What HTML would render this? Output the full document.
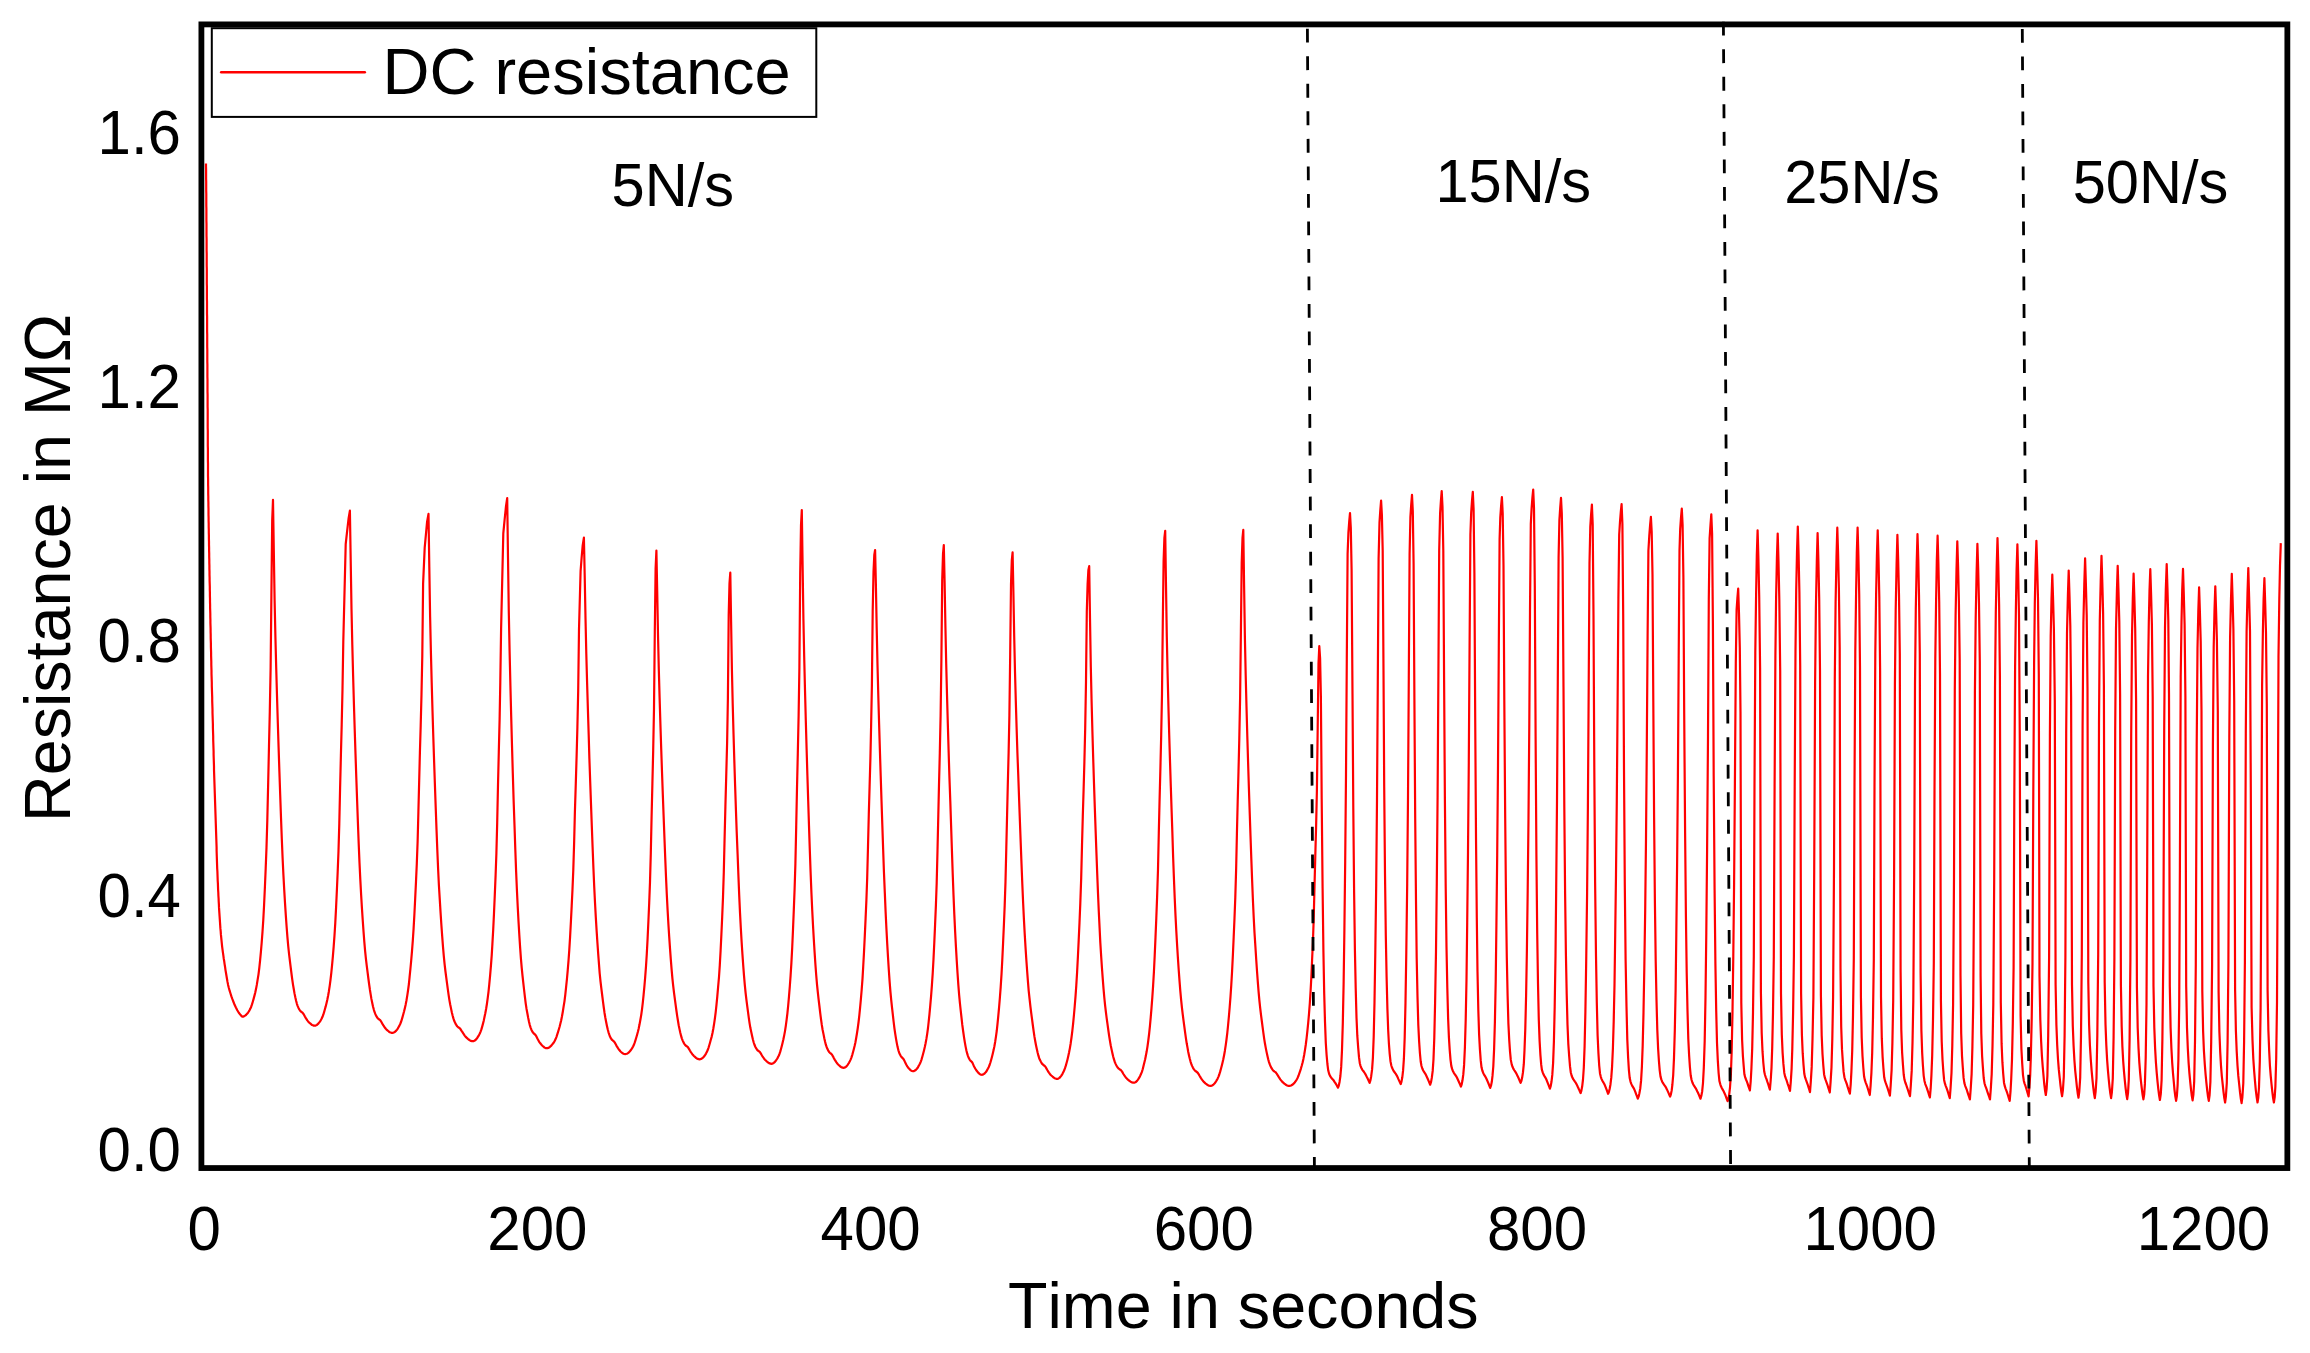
<!DOCTYPE html>
<html lang="en">
<head>
<meta charset="utf-8">
<title>DC resistance versus time</title>
<style>
html,body{margin:0;padding:0;background:#fff;}
body{width:2310px;height:1353px;overflow:hidden;}
svg{display:block;}
text{white-space:pre;font-kerning:none;font-variant-ligatures:none;}
</style>
</head>
<body>
<svg width="2310" height="1353" viewBox="0 0 2310 1353" font-family="'Liberation Sans', Arial, Helvetica, sans-serif" fill="#000">
<rect x="0" y="0" width="2310" height="1353" fill="#fff"/>
<path d="M206.0 163.6L206.0 166.6L206.1 169.6L206.1 172.6L206.1 175.6L206.1 178.6L206.2 181.6L206.2 184.6L206.2 187.6L206.2 190.6L206.3 193.6L206.3 196.6L206.3 199.6L206.3 202.6L206.3 205.6L206.4 208.6L206.4 211.6L206.4 214.6L206.4 217.6L206.4 220.6L206.5 223.6L206.5 226.6L206.5 229.6L206.5 232.6L206.5 235.6L206.6 238.6L206.6 241.6L206.6 244.6L206.6 247.6L206.6 250.6L206.7 253.6L206.7 256.6L206.7 259.6L206.7 262.6L206.7 265.6L206.8 268.6L206.8 271.6L206.8 274.6L206.8 277.6L206.8 280.6L206.8 283.6L206.9 286.6L206.9 289.6L206.9 292.6L206.9 295.6L206.9 298.6L207.0 301.6L207.0 304.6L207.0 307.6L207.0 310.6L207.0 313.6L207.1 316.6L207.1 319.6L207.1 322.6L207.1 325.6L207.1 328.6L207.1 331.6L207.2 334.6L207.2 337.6L207.2 340.6L207.2 343.6L207.2 346.6L207.3 349.6L207.3 352.6L207.3 355.6L207.3 358.6L207.3 361.6L207.4 364.6L207.4 367.6L207.4 370.6L207.4 373.6L207.4 376.6L207.5 379.6L207.5 382.6L207.5 385.6L207.5 388.6L207.5 391.6L207.6 394.6L207.6 397.6L207.6 400.6L207.6 403.6L207.6 406.6L207.7 409.6L207.7 412.6L207.7 415.6L207.7 418.6L207.7 421.6L207.7 424.6L207.7 427.6L207.8 430.6L207.8 433.6L207.8 436.6L207.8 439.6L207.8 442.6L207.8 445.6L207.9 448.6L207.9 451.6L207.9 454.6L207.9 457.6L207.9 460.6L208.0 463.6L208.0 466.6L208.0 469.6L208.0 472.6L208.0 475.6L208.1 478.6L208.1 481.6L208.1 484.6L208.2 487.6L208.2 490.6L208.2 493.6L208.3 496.6L208.3 499.6L208.4 502.6L208.4 505.6L208.5 508.6L208.5 511.6L208.5 514.6L208.6 517.6L208.6 520.6L208.7 523.6L208.7 526.6L208.8 529.6L208.8 532.6L208.9 535.6L208.9 538.6L209.0 541.6L209.0 544.6L209.1 547.6L209.1 550.6L209.2 553.6L209.2 556.6L209.3 559.6L209.3 562.6L209.4 565.6L209.4 568.6L209.5 571.6L209.5 574.6L209.6 577.6L209.6 580.6L209.7 583.6L209.8 586.6L209.8 589.6L209.9 592.6L209.9 595.6L210.0 598.6L210.0 601.6L210.1 604.6L210.1 607.6L210.2 610.6L210.3 613.6L210.3 616.6L210.4 619.6L210.4 622.6L210.5 625.6L210.6 628.6L210.6 631.6L210.7 634.6L210.7 637.6L210.8 640.6L210.9 643.6L210.9 646.6L211.0 649.6L211.1 652.6L211.1 655.6L211.2 658.6L211.3 661.6L211.3 664.6L211.4 667.6L211.5 670.6L211.5 673.6L211.6 676.6L211.7 679.6L211.8 682.6L211.8 685.6L211.9 688.6L212.0 691.6L212.1 694.6L212.2 697.6L212.2 700.6L212.3 703.6L212.4 706.6L212.5 709.5L212.5 712.5L212.6 715.5L212.7 718.5L212.8 721.5L212.9 724.5L212.9 727.5L213.0 730.5L213.1 733.5L213.2 736.5L213.2 739.5L213.3 742.5L213.4 745.5L213.5 748.5L213.6 751.5L213.6 754.5L213.7 757.5L213.8 760.5L213.9 763.5L214.0 766.5L214.0 769.5L214.1 772.5L214.2 775.5L214.3 778.5L214.4 781.5L214.5 784.5L214.6 787.5L214.7 790.5L214.8 793.5L214.9 796.5L215.0 799.5L215.1 802.5L215.2 805.5L215.3 808.5L215.4 811.5L215.5 814.5L215.6 817.5L215.7 820.5L215.8 823.5L215.9 826.5L216.0 829.5L216.1 832.5L216.2 835.5L216.3 838.5L216.4 841.5L216.5 844.5L216.6 847.5L216.6 850.5L216.7 853.5L216.8 856.5L216.9 859.5L217.0 862.5L217.1 865.5L217.2 868.5L217.4 871.5L217.5 874.5L217.6 877.5L217.7 880.5L217.9 883.5L218.0 886.5L218.1 889.5L218.3 892.5L218.4 895.5L218.6 898.5L218.7 901.4L218.9 904.4L219.0 907.4L219.2 910.4L219.4 913.4L219.6 916.4L219.8 919.4L220.0 922.4L220.2 925.4L220.4 928.4L220.7 931.4L220.9 934.4L221.2 937.4L221.5 940.3L221.8 943.3L222.1 946.3L222.5 949.3L222.9 952.3L223.3 955.2L223.7 958.2L224.2 961.2L224.6 964.1L225.1 967.1L225.5 970.1L226.0 973.0L226.5 976.0L227.0 979.0L227.5 981.9L228.1 984.9L228.8 987.8L229.6 990.7L230.5 993.5L231.4 996.4L232.4 999.2L233.5 1002.0L234.6 1004.8L235.9 1007.5L237.3 1010.2L238.8 1012.8L240.7 1015.1L242.3 1016.7L243.1 1016.6L243.9 1016.4L244.7 1015.9L245.5 1015.4L246.3 1014.6L247.1 1013.7L248.0 1012.7L248.8 1011.5L249.6 1010.1L250.4 1008.6L251.2 1006.7L252.0 1004.4L252.8 1001.7L253.6 998.9L254.4 995.9L255.2 992.7L256.0 989.1L256.8 984.9L257.6 979.9L258.5 974.3L259.3 967.9L260.1 960.4L260.9 951.9L261.7 942.5L262.5 931.9L263.3 919.7L264.1 904.8L264.9 887.3L265.7 868.3L266.5 847.6L267.3 820.5L268.2 782.1L269.0 746.0L269.8 711.6L270.6 669.1L271.4 594.9L272.2 520.6L273.0 499.9L273.8 550.5L274.6 600.0L275.4 636.4L276.2 667.4L277.0 695.9L277.8 722.5L278.6 747.6L279.4 771.6L280.2 795.0L281.0 817.6L281.8 838.8L282.6 858.0L283.4 874.6L284.2 889.4L285.0 902.9L285.8 915.1L286.6 926.5L287.4 936.9L288.2 945.9L289.0 953.5L289.8 960.2L290.6 966.6L291.4 973.0L292.2 979.1L293.0 984.6L293.8 989.2L294.5 993.4L295.3 997.3L296.1 1000.8L296.9 1003.8L297.7 1006.1L298.5 1007.9L299.3 1009.5L300.1 1010.7L300.9 1011.5L301.7 1012.1L302.5 1012.7L303.3 1013.7L304.1 1015.0L304.9 1016.5L305.7 1017.9L306.5 1019.1L307.3 1020.4L308.1 1021.4L308.9 1022.3L309.7 1023.0L310.5 1023.7L311.3 1024.4L312.1 1025.0L312.9 1025.3L313.7 1025.6L314.5 1025.7L315.3 1025.6L316.1 1025.3L316.9 1024.9L317.7 1024.2L318.5 1023.4L319.3 1022.4L320.1 1021.3L320.9 1020.0L321.7 1018.5L322.5 1016.8L323.3 1014.7L324.1 1012.1L324.9 1009.3L325.7 1006.4L326.5 1003.2L327.3 999.7L328.1 995.8L328.9 991.2L329.7 985.8L330.5 979.9L331.3 972.9L332.1 964.9L332.9 956.1L333.7 946.4L334.5 935.4L335.3 922.6L336.1 907.1L336.9 889.7L337.7 871.5L338.5 851.0L339.3 823.6L340.1 787.7L340.9 755.5L341.7 724.9L342.5 689.3L343.3 641.5L345.7 544.2L347.1 531.3L348.6 518.4L349.9 510.7L350.7 560.3L351.5 608.9L352.3 644.8L353.1 675.2L353.9 703.3L354.7 729.3L355.5 753.9L356.3 777.5L357.1 800.3L357.9 822.6L358.7 843.6L359.5 862.7L360.3 879.4L361.1 894.2L361.9 907.6L362.7 919.8L363.5 931.1L364.3 941.6L365.1 950.8L365.9 958.6L366.7 965.4L367.5 971.7L368.3 978.0L369.1 984.0L369.9 989.7L370.7 994.6L371.4 998.9L372.2 1002.8L373.0 1006.4L373.8 1009.6L374.6 1012.2L375.4 1014.2L376.2 1015.9L377.0 1017.3L377.8 1018.3L378.6 1019.0L379.4 1019.6L380.2 1020.2L381.0 1021.3L381.8 1022.7L382.6 1024.1L383.4 1025.4L384.2 1026.6L385.0 1027.8L385.8 1028.8L386.6 1029.6L387.4 1030.3L388.2 1031.0L389.0 1031.7L389.8 1032.2L390.6 1032.5L391.4 1032.8L392.2 1032.9L393.0 1032.8L393.8 1032.5L394.6 1032.1L395.4 1031.4L396.2 1030.6L397.0 1029.7L397.8 1028.6L398.5 1027.3L399.3 1025.9L400.1 1024.2L400.9 1022.3L401.7 1019.8L402.5 1017.1L403.3 1014.3L404.1 1011.3L404.9 1008.0L405.7 1004.4L406.5 1000.2L407.3 995.4L408.1 990.0L408.9 984.0L409.6 976.9L410.4 969.0L411.2 960.5L412.0 951.2L412.8 940.7L413.6 928.6L414.4 914.2L415.2 898.2L416.0 881.6L416.8 863.7L417.6 842.0L418.4 811.8L419.2 780.2L419.9 752.7L420.7 725.5L421.5 694.2L422.3 655.4L423.1 583.9L424.7 547.6L425.9 534.7L427.1 521.7L428.5 513.9L429.3 566.7L430.1 616.1L430.9 652.1L431.7 682.6L432.5 710.7L433.3 736.7L434.1 761.1L434.9 784.5L435.7 807.1L436.5 829.1L437.3 849.8L438.1 868.7L438.9 885.2L439.8 899.9L440.6 913.1L441.4 925.2L442.2 936.4L443.0 946.8L443.8 956.1L444.6 964.1L445.4 971.0L446.2 977.2L447.0 983.2L447.8 989.2L448.6 994.9L449.4 1000.1L450.2 1004.5L451.0 1008.4L451.8 1012.2L452.6 1015.5L453.4 1018.4L454.2 1020.8L455.0 1022.6L455.8 1024.2L456.6 1025.5L457.4 1026.5L458.2 1027.2L459.0 1027.7L459.8 1028.3L460.6 1029.3L461.4 1030.6L462.3 1031.9L463.1 1033.2L463.9 1034.4L464.7 1035.6L465.5 1036.6L466.3 1037.4L467.1 1038.2L467.9 1038.9L468.7 1039.5L469.5 1040.1L470.3 1040.6L471.1 1040.9L471.9 1041.1L472.7 1041.2L473.5 1041.1L474.3 1040.8L475.1 1040.3L475.9 1039.6L476.6 1038.7L477.4 1037.7L478.2 1036.4L479.0 1035.1L479.8 1033.5L480.6 1031.6L481.4 1029.4L482.2 1026.6L483.0 1023.6L483.8 1020.4L484.5 1017.0L485.3 1013.3L486.1 1009.0L486.9 1004.0L487.7 998.2L488.5 991.8L489.3 984.2L490.1 975.6L490.9 966.1L491.7 955.7L492.4 943.9L493.2 929.9L494.0 913.2L494.8 894.7L495.6 875.4L496.4 853.2L497.2 822.6L498.0 785.0L498.8 752.0L499.6 719.9L500.3 681.9L501.1 628.8L503.3 533.4L504.6 519.8L506.0 506.2L507.2 498.1L508.0 557.5L508.8 611.9L509.6 651.2L510.4 685.3L511.2 716.6L512.0 745.6L512.8 773.1L513.6 799.6L514.5 825.2L515.3 849.3L516.1 871.1L516.9 889.8L517.7 906.3L518.5 921.2L519.3 934.7L520.1 947.1L520.9 958.3L521.7 967.7L522.5 975.7L523.3 982.9L524.1 990.0L524.9 996.9L525.7 1003.3L526.5 1008.7L527.4 1013.5L528.2 1017.9L529.0 1021.8L529.8 1025.1L530.6 1027.6L531.4 1029.7L532.2 1031.4L533.0 1032.6L533.8 1033.5L534.6 1034.1L535.4 1034.9L536.2 1036.1L537.0 1037.7L537.8 1039.3L538.6 1040.7L539.4 1042.1L540.3 1043.3L541.1 1044.3L541.9 1045.2L542.7 1046.0L543.5 1046.7L544.3 1047.4L545.1 1047.8L545.9 1048.1L546.7 1048.2L547.5 1048.1L548.3 1047.9L549.1 1047.5L549.9 1046.9L550.7 1046.2L551.5 1045.4L552.3 1044.4L553.2 1043.3L554.0 1042.1L554.8 1040.7L555.6 1039.1L556.4 1037.1L557.2 1034.7L558.0 1032.2L558.8 1029.5L559.6 1026.7L560.4 1023.6L561.2 1020.2L562.0 1016.3L562.8 1011.8L563.6 1006.7L564.5 1001.1L565.3 994.6L566.1 987.2L566.9 979.3L567.7 970.6L568.5 960.9L569.3 949.9L570.1 936.8L570.9 921.8L571.7 905.9L572.5 889.2L573.3 869.9L574.1 843.8L574.9 811.9L575.8 783.2L576.6 756.5L577.4 727.0L578.2 690.6L579.0 629.4L580.6 570.8L581.6 558.0L582.7 545.3L583.9 537.6L584.7 575.5L585.5 618.1L586.3 653.7L587.1 682.9L587.9 709.6L588.7 734.9L589.4 758.9L590.2 781.8L591.0 804.1L591.8 825.9L592.6 847.3L593.4 867.6L594.2 886.2L595.0 902.5L595.8 917.1L596.6 930.4L597.4 942.5L598.2 953.8L599.0 964.3L599.7 973.5L600.5 981.3L601.3 988.1L602.1 994.5L602.9 1000.8L603.7 1007.0L604.5 1012.7L605.3 1017.5L606.1 1021.7L606.9 1025.7L607.7 1029.3L608.5 1032.3L609.3 1034.7L610.0 1036.6L610.8 1038.2L611.6 1039.4L612.4 1040.2L613.2 1040.8L614.0 1041.5L614.8 1042.6L615.6 1044.0L616.4 1045.6L617.2 1046.9L618.0 1048.2L618.8 1049.4L619.6 1050.3L620.3 1051.2L621.1 1052.0L621.9 1052.7L622.7 1053.3L623.5 1053.7L624.3 1054.0L625.1 1054.1L625.9 1054.0L626.7 1053.8L627.5 1053.4L628.3 1052.8L629.1 1052.1L629.9 1051.3L630.7 1050.3L631.5 1049.2L632.3 1047.9L633.1 1046.5L633.9 1044.8L634.7 1042.7L635.5 1040.2L636.3 1037.5L637.1 1034.7L637.9 1031.7L638.7 1028.4L639.5 1024.6L640.3 1020.2L641.2 1015.1L642.0 1009.3L642.8 1002.7L643.6 994.9L644.4 986.4L645.2 977.0L646.0 966.4L646.8 953.8L647.6 938.6L648.4 921.3L649.2 903.0L650.0 882.1L650.8 853.2L651.6 816.2L652.4 783.4L653.2 750.3L654.0 708.4L654.8 631.8L655.6 568.9L656.4 550.6L657.2 591.1L658.0 634.6L658.8 669.1L659.6 697.6L660.4 723.9L661.2 748.5L662.0 771.8L662.8 794.1L663.6 815.6L664.4 836.7L665.2 857.3L666.0 876.7L666.8 894.5L667.6 910.1L668.4 924.1L669.2 936.8L670.0 948.4L670.8 959.3L671.6 969.3L672.4 978.3L673.2 985.9L674.0 992.6L674.8 998.7L675.6 1004.6L676.4 1010.5L677.2 1016.1L678.0 1021.0L678.7 1025.2L679.5 1029.1L680.3 1032.7L681.1 1035.9L681.9 1038.6L682.7 1040.6L683.5 1042.4L684.3 1043.8L685.1 1044.9L685.9 1045.7L686.7 1046.2L687.5 1046.8L688.3 1047.8L689.1 1049.1L689.9 1050.5L690.7 1051.8L691.5 1053.0L692.3 1054.2L693.1 1055.1L693.9 1056.0L694.7 1056.7L695.5 1057.4L696.3 1058.1L697.1 1058.6L697.9 1058.9L698.7 1059.2L699.5 1059.3L700.3 1059.2L701.1 1058.9L701.9 1058.5L702.7 1057.8L703.6 1057.0L704.4 1056.0L705.2 1054.9L706.0 1053.6L706.8 1052.1L707.6 1050.3L708.4 1048.1L709.2 1045.5L710.0 1042.7L710.8 1039.8L711.7 1036.6L712.5 1033.0L713.3 1028.8L714.1 1023.9L714.9 1018.4L715.7 1012.1L716.5 1004.6L717.3 996.3L718.1 987.2L719.0 977.0L719.8 965.1L720.6 950.7L721.4 934.2L722.2 916.7L723.0 897.4L723.8 872.2L724.6 838.0L725.4 806.4L726.2 777.0L727.1 743.2L727.9 698.1L728.7 615.2L729.5 583.4L730.3 572.7L731.1 622.1L731.9 669.1L732.7 703.5L733.5 733.0L734.3 760.1L735.1 785.3L735.9 809.1L736.7 831.9L737.6 854.1L738.4 875.4L739.2 895.1L740.0 912.6L740.8 927.8L741.6 941.5L742.4 953.8L743.2 965.1L744.0 975.6L744.8 984.9L745.6 992.8L746.4 999.6L747.2 1005.8L748.0 1011.8L748.8 1017.8L749.6 1023.3L750.4 1028.1L751.3 1032.2L752.1 1036.0L752.9 1039.5L753.7 1042.5L754.5 1044.8L755.3 1046.7L756.1 1048.2L756.9 1049.5L757.7 1050.4L758.5 1051.0L759.3 1051.5L760.1 1052.3L760.9 1053.6L761.7 1055.0L762.5 1056.3L763.3 1057.5L764.1 1058.7L765.0 1059.7L765.8 1060.5L766.6 1061.3L767.4 1061.9L768.2 1062.6L769.0 1063.1L769.8 1063.4L770.6 1063.7L771.4 1063.8L772.2 1063.7L773.0 1063.4L773.8 1062.9L774.6 1062.2L775.4 1061.3L776.2 1060.2L777.0 1059.0L777.8 1057.6L778.6 1056.0L779.4 1054.2L780.2 1051.9L781.0 1049.0L781.8 1046.0L782.6 1042.8L783.4 1039.3L784.2 1035.4L785.0 1031.1L785.8 1025.9L786.6 1019.9L787.4 1013.3L788.2 1005.4L789.0 996.4L789.8 986.5L790.6 975.5L791.4 962.9L792.2 947.8L793.0 929.8L793.8 910.0L794.6 889.1L795.4 863.8L796.2 827.1L797.0 788.1L797.8 753.7L798.6 716.2L799.4 667.6L800.2 574.2L801.0 525.3L801.8 510.0L802.6 565.3L803.4 618.2L804.2 657.0L805.0 690.1L805.8 720.5L806.6 748.8L807.4 775.4L808.2 801.0L809.0 825.9L809.8 849.9L810.6 872.2L811.4 892.3L812.2 909.7L813.0 925.2L813.8 939.3L814.6 952.2L815.4 964.2L816.2 975.0L817.0 984.3L817.8 992.2L818.6 999.3L819.4 1006.0L820.2 1012.8L821.0 1019.2L821.8 1024.9L822.6 1029.7L823.5 1034.1L824.3 1038.2L825.1 1041.8L825.9 1044.9L826.7 1047.2L827.5 1049.1L828.3 1050.7L829.1 1052.0L829.9 1052.8L830.7 1053.4L831.5 1054.1L832.3 1055.2L833.1 1056.6L833.9 1058.2L834.7 1059.6L835.5 1060.9L836.3 1062.2L837.1 1063.3L837.9 1064.2L838.7 1065.0L839.5 1065.7L840.3 1066.5L841.1 1067.0L841.9 1067.4L842.7 1067.7L843.5 1067.8L844.3 1067.7L845.1 1067.4L845.9 1066.8L846.7 1066.1L847.5 1065.1L848.2 1064.0L849.0 1062.8L849.8 1061.3L850.6 1059.6L851.4 1057.6L852.2 1055.1L853.0 1052.2L853.8 1049.2L854.6 1046.0L855.4 1042.4L856.1 1038.5L856.9 1033.8L857.7 1028.5L858.5 1022.5L859.3 1015.7L860.1 1007.7L860.9 999.0L861.7 989.5L862.5 978.9L863.2 966.8L864.0 952.2L864.8 935.7L865.6 918.4L866.4 900.1L867.2 877.8L868.0 846.7L868.8 814.3L869.6 786.4L870.4 758.5L871.1 726.1L871.9 685.5L872.7 611.4L873.5 572.4L874.3 554.9L875.1 550.0L875.9 585.5L876.7 627.9L877.5 665.1L878.3 695.6L879.1 723.7L879.9 750.4L880.7 775.9L881.5 800.5L882.3 824.4L883.1 848.0L883.9 871.0L884.8 892.4L885.6 911.6L886.4 928.3L887.2 943.4L888.0 957.1L888.8 969.7L889.6 981.3L890.4 991.4L891.2 999.9L892.0 1007.3L892.8 1014.4L893.6 1021.5L894.4 1028.1L895.2 1033.7L896.0 1038.6L896.8 1043.1L897.6 1047.1L898.4 1050.3L899.2 1052.7L900.0 1054.6L900.8 1056.1L901.6 1057.2L902.4 1057.9L903.2 1058.7L904.1 1060.1L904.9 1061.8L905.7 1063.4L906.5 1065.0L907.3 1066.4L908.1 1067.5L908.9 1068.5L909.7 1069.3L910.5 1070.1L911.3 1070.7L912.1 1071.0L912.9 1071.2L913.7 1071.1L914.5 1070.8L915.3 1070.3L916.1 1069.6L916.9 1068.7L917.7 1067.7L918.4 1066.4L919.2 1065.0L920.0 1063.5L920.8 1061.6L921.6 1059.3L922.4 1056.5L923.2 1053.5L924.0 1050.4L924.8 1047.0L925.6 1043.2L926.4 1038.9L927.2 1033.8L928.0 1028.0L928.7 1021.5L929.5 1013.9L930.3 1005.2L931.1 995.9L931.9 985.4L932.7 973.5L933.5 959.2L934.3 942.5L935.1 924.4L935.9 905.4L936.7 882.8L937.5 850.8L938.3 815.4L939.0 784.6L939.8 753.4L940.6 715.8L941.4 659.4L942.2 580.7L943.0 554.2L943.8 545.0L944.6 581.9L945.4 625.6L946.2 663.4L947.0 694.5L947.8 723.2L948.6 750.4L949.4 776.4L950.3 801.4L951.1 825.8L951.9 849.9L952.7 873.2L953.5 894.9L954.3 914.1L955.1 931.0L955.9 946.1L956.7 960.0L957.5 972.7L958.3 984.4L959.1 994.5L959.9 1003.0L960.7 1010.5L961.5 1017.7L962.3 1024.9L963.2 1031.5L964.0 1037.1L964.8 1042.1L965.6 1046.6L966.4 1050.5L967.2 1053.7L968.0 1056.1L968.8 1058.1L969.6 1059.6L970.4 1060.6L971.2 1061.3L972.0 1062.1L972.8 1063.6L973.6 1065.4L974.4 1067.0L975.2 1068.5L976.1 1069.9L976.9 1071.1L977.7 1072.0L978.5 1072.9L979.3 1073.7L980.1 1074.3L980.9 1074.6L981.7 1074.8L982.5 1074.7L983.3 1074.4L984.1 1073.9L984.9 1073.1L985.7 1072.2L986.5 1071.2L987.2 1069.9L988.0 1068.5L988.8 1066.9L989.6 1065.0L990.4 1062.5L991.2 1059.7L992.0 1056.7L992.8 1053.5L993.6 1050.1L994.4 1046.2L995.2 1041.7L996.0 1036.4L996.8 1030.5L997.5 1023.8L998.3 1015.9L999.1 1007.1L999.9 997.5L1000.7 986.8L1001.5 974.5L1002.3 959.7L1003.1 942.7L1003.9 924.7L1004.7 905.4L1005.5 881.6L1006.3 848.1L1007.1 814.2L1007.8 784.6L1008.6 753.4L1009.4 715.3L1010.2 654.1L1011.0 584.6L1011.8 560.4L1012.6 552.4L1013.4 592.5L1014.2 636.2L1015.0 671.8L1015.8 700.9L1016.6 727.6L1017.4 752.7L1018.3 776.5L1019.1 799.2L1019.9 821.1L1020.7 842.6L1021.5 863.6L1022.3 883.7L1023.1 902.3L1023.9 918.9L1024.7 933.6L1025.5 947.0L1026.3 959.2L1027.1 970.5L1027.9 981.1L1028.7 990.8L1029.6 999.2L1030.4 1006.4L1031.2 1012.8L1032.0 1018.9L1032.8 1025.0L1033.6 1030.9L1034.4 1036.4L1035.2 1041.0L1036.0 1045.2L1036.8 1049.0L1037.6 1052.6L1038.4 1055.7L1039.2 1058.2L1040.0 1060.1L1040.9 1061.8L1041.7 1063.2L1042.5 1064.2L1043.3 1064.9L1044.1 1065.5L1044.9 1066.1L1045.7 1067.2L1046.5 1068.6L1047.3 1070.0L1048.1 1071.3L1048.9 1072.6L1049.7 1073.7L1050.5 1074.7L1051.3 1075.5L1052.2 1076.3L1053.0 1077.0L1053.8 1077.6L1054.6 1078.2L1055.4 1078.5L1056.2 1078.8L1057.0 1078.9L1057.8 1078.8L1058.6 1078.4L1059.4 1077.9L1060.2 1077.1L1061.0 1076.1L1061.8 1075.0L1062.6 1073.6L1063.4 1072.1L1064.2 1070.3L1065.0 1068.2L1065.9 1065.4L1066.7 1062.5L1067.5 1059.4L1068.3 1056.0L1069.1 1052.3L1069.9 1048.1L1070.7 1043.2L1071.5 1037.5L1072.3 1031.2L1073.1 1023.8L1073.9 1015.5L1074.7 1006.5L1075.5 996.6L1076.3 985.4L1077.1 972.2L1077.9 956.8L1078.7 940.1L1079.5 922.8L1080.3 903.4L1081.2 877.9L1082.0 845.6L1082.8 816.2L1083.6 789.7L1084.4 761.7L1085.2 728.4L1086.0 681.5L1086.8 611.7L1087.6 584.3L1088.4 569.9L1089.2 566.2L1090.0 618.2L1090.8 666.5L1091.6 701.5L1092.4 731.2L1093.2 758.4L1094.0 783.6L1094.8 807.4L1095.6 830.0L1096.4 852.0L1097.2 873.3L1098.0 893.4L1098.8 911.8L1099.6 928.0L1100.3 942.4L1101.1 955.3L1101.9 967.2L1102.7 978.1L1103.5 988.3L1104.3 997.5L1105.1 1005.4L1105.9 1012.2L1106.7 1018.4L1107.5 1024.2L1108.3 1030.0L1109.1 1035.6L1109.9 1040.7L1110.7 1045.2L1111.5 1049.1L1112.3 1052.8L1113.1 1056.2L1113.9 1059.2L1114.7 1061.7L1115.5 1063.6L1116.3 1065.3L1117.1 1066.7L1117.9 1067.8L1118.7 1068.6L1119.5 1069.2L1120.3 1069.7L1121.1 1070.4L1121.9 1071.4L1122.7 1072.7L1123.4 1074.0L1124.2 1075.2L1125.0 1076.3L1125.8 1077.4L1126.6 1078.3L1127.4 1079.1L1128.2 1079.8L1129.0 1080.5L1129.8 1081.1L1130.6 1081.7L1131.4 1082.1L1132.2 1082.4L1133.0 1082.6L1133.8 1082.7L1134.6 1082.6L1135.4 1082.2L1136.2 1081.7L1137.0 1080.9L1137.8 1079.9L1138.6 1078.7L1139.4 1077.4L1140.2 1075.8L1141.0 1074.0L1141.9 1071.9L1142.7 1069.2L1143.5 1066.0L1144.3 1062.8L1145.1 1059.4L1145.9 1055.6L1146.7 1051.3L1147.5 1046.3L1148.3 1040.5L1149.1 1034.0L1149.9 1026.4L1150.7 1017.7L1151.5 1008.2L1152.3 997.7L1153.1 985.9L1153.9 972.2L1154.7 955.8L1155.5 937.4L1156.3 918.3L1157.1 897.1L1158.0 869.5L1158.8 832.9L1159.6 799.1L1160.4 768.5L1161.2 735.1L1162.0 693.8L1162.8 622.7L1163.6 560.9L1164.4 537.9L1165.2 530.8L1166.0 585.4L1166.8 636.6L1167.6 674.0L1168.4 705.4L1169.2 734.3L1170.0 761.1L1170.8 786.3L1171.6 810.4L1172.4 833.6L1173.1 856.2L1173.9 877.8L1174.7 897.7L1175.5 915.4L1176.3 931.0L1177.1 945.0L1177.9 957.9L1178.7 969.7L1179.5 980.7L1180.3 990.8L1181.1 999.7L1181.9 1007.3L1182.7 1014.1L1183.5 1020.3L1184.3 1026.4L1185.1 1032.4L1185.9 1038.2L1186.7 1043.3L1187.5 1047.6L1188.2 1051.7L1189.0 1055.4L1189.8 1058.8L1190.6 1061.8L1191.4 1064.2L1192.2 1066.1L1193.0 1067.8L1193.8 1069.1L1194.6 1070.2L1195.4 1071.0L1196.2 1071.5L1197.0 1072.1L1197.8 1072.9L1198.6 1074.1L1199.4 1075.5L1200.2 1076.8L1201.0 1078.1L1201.8 1079.3L1202.6 1080.4L1203.3 1081.3L1204.1 1082.2L1204.9 1082.9L1205.7 1083.6L1206.5 1084.2L1207.3 1084.8L1208.1 1085.3L1208.9 1085.6L1209.7 1085.8L1210.5 1085.9L1211.3 1085.8L1212.1 1085.5L1212.9 1085.0L1213.7 1084.3L1214.5 1083.5L1215.3 1082.5L1216.1 1081.3L1216.9 1079.9L1217.7 1078.4L1218.5 1076.6L1219.3 1074.5L1220.1 1071.9L1220.9 1069.0L1221.7 1065.9L1222.5 1062.7L1223.3 1059.2L1224.1 1055.2L1224.9 1050.7L1225.7 1045.4L1226.5 1039.5L1227.3 1032.8L1228.1 1025.0L1228.9 1016.4L1229.7 1007.0L1230.5 996.6L1231.3 984.8L1232.1 971.0L1232.9 954.7L1233.7 936.8L1234.5 918.3L1235.3 897.4L1236.1 870.2L1236.9 834.4L1237.7 801.3L1238.5 771.2L1239.3 738.5L1240.1 698.3L1240.9 631.3L1241.7 562.9L1242.5 538.2L1243.3 529.9L1244.1 586.0L1244.9 637.7L1245.7 675.2L1246.5 706.9L1247.3 736.0L1248.1 762.9L1248.9 788.2L1249.7 812.3L1250.5 835.7L1251.3 858.4L1252.1 879.9L1252.9 899.7L1253.7 917.2L1254.5 932.6L1255.4 946.5L1256.2 959.3L1257.0 971.0L1257.8 981.9L1258.6 991.9L1259.4 1000.7L1260.2 1008.2L1261.0 1014.8L1261.8 1021.0L1262.6 1027.1L1263.4 1033.1L1264.2 1038.8L1265.0 1043.8L1265.8 1048.1L1266.6 1052.1L1267.4 1055.8L1268.2 1059.2L1269.0 1062.1L1269.8 1064.4L1270.6 1066.3L1271.4 1067.9L1272.2 1069.2L1273.0 1070.3L1273.8 1071.0L1274.6 1071.6L1275.4 1072.1L1276.2 1073.0L1277.0 1074.2L1277.9 1075.6L1278.7 1076.9L1279.5 1078.1L1280.3 1079.3L1281.1 1080.4L1281.9 1081.4L1282.7 1082.2L1283.5 1082.9L1284.3 1083.6L1285.1 1084.2L1285.9 1084.8L1286.7 1085.3L1287.5 1085.6L1288.3 1085.8L1289.1 1085.9L1289.9 1085.8L1290.7 1085.6L1291.5 1085.3L1292.3 1084.8L1293.1 1084.1L1293.9 1083.4L1294.7 1082.5L1295.5 1081.4L1296.3 1080.3L1297.0 1079.0L1297.8 1077.4L1298.6 1075.5L1299.4 1073.2L1300.2 1070.8L1301.0 1068.3L1301.8 1065.5L1302.6 1062.4L1303.4 1058.9L1304.2 1054.7L1305.0 1049.9L1305.8 1044.5L1306.6 1038.1L1307.4 1030.8L1308.2 1022.9L1309.0 1013.9L1309.8 1003.5L1310.6 990.9L1311.4 976.0L1312.1 959.8L1312.9 942.2L1313.7 919.3L1314.5 886.6L1315.3 855.9L1316.1 826.5L1316.9 790.4L1317.7 727.6L1318.5 663.8L1319.3 646.0L1320.1 658.3L1320.9 697.6L1321.7 799.2L1322.6 888.2L1323.4 950.4L1324.2 993.2L1325.0 1021.9L1325.8 1043.0L1326.6 1055.0L1327.4 1064.0L1328.2 1070.3L1329.1 1073.7L1329.9 1075.6L1330.7 1076.9L1331.5 1078.0L1332.3 1078.9L1333.1 1079.8L1333.9 1080.8L1334.7 1082.1L1335.6 1083.4L1336.4 1084.8L1337.2 1086.2L1338.0 1087.7L1338.8 1085.5L1339.6 1081.7L1340.4 1076.0L1341.2 1066.9L1342.0 1050.0L1342.8 1023.5L1343.6 984.4L1344.4 929.4L1345.2 861.1L1346.0 774.4L1346.8 659.3L1347.6 554.0L1348.4 532.8L1349.2 521.8L1350.0 513.0L1350.8 528.0L1351.6 569.9L1352.5 694.0L1353.3 808.6L1354.1 891.5L1354.9 949.5L1355.7 988.0L1356.5 1017.5L1357.3 1035.7L1358.2 1047.8L1359.0 1057.2L1359.8 1063.2L1360.6 1066.1L1361.4 1068.0L1362.2 1069.6L1363.1 1070.8L1363.9 1071.8L1364.7 1073.0L1365.5 1074.3L1366.3 1075.9L1367.1 1077.6L1368.0 1079.3L1368.8 1081.1L1369.6 1082.9L1370.4 1080.5L1371.2 1076.2L1372.1 1069.4L1372.9 1057.8L1373.7 1036.7L1374.5 1002.2L1375.3 952.4L1376.2 884.9L1377.0 799.4L1377.8 681.6L1378.6 558.8L1379.5 522.4L1380.3 510.3L1381.1 500.6L1381.9 515.2L1382.7 550.8L1383.5 670.3L1384.2 786.8L1385.0 874.0L1385.8 935.2L1386.6 977.0L1387.4 1008.6L1388.2 1030.5L1388.9 1043.5L1389.7 1053.9L1390.5 1061.4L1391.3 1065.5L1392.1 1067.8L1392.9 1069.6L1393.6 1070.9L1394.4 1072.0L1395.2 1073.1L1396.0 1074.2L1396.8 1075.6L1397.6 1077.2L1398.3 1078.9L1399.1 1080.6L1399.9 1082.3L1400.7 1084.1L1401.5 1081.6L1402.3 1077.3L1403.1 1070.4L1403.9 1058.7L1404.7 1037.4L1405.5 1002.4L1406.3 952.0L1407.2 883.7L1408.0 797.2L1408.8 678.1L1409.6 553.8L1410.4 517.0L1411.2 504.7L1412.0 494.9L1412.8 511.3L1413.6 563.9L1414.4 699.4L1415.2 818.2L1416.0 901.3L1416.7 958.6L1417.5 996.8L1418.3 1025.0L1419.1 1041.0L1419.9 1053.0L1420.7 1061.5L1421.5 1066.0L1422.3 1068.5L1423.1 1070.3L1423.9 1071.7L1424.7 1072.9L1425.5 1074.1L1426.2 1075.5L1427.0 1077.2L1427.8 1079.0L1428.6 1080.9L1429.4 1082.8L1430.2 1084.7L1431.0 1082.2L1431.8 1077.9L1432.7 1070.9L1433.5 1059.1L1434.3 1037.6L1435.1 1002.4L1436.0 951.6L1436.8 882.8L1437.6 795.7L1438.4 675.6L1439.2 550.5L1440.1 513.3L1440.9 501.0L1441.7 491.1L1442.5 506.8L1443.3 550.6L1444.1 680.2L1444.9 799.9L1445.7 886.5L1446.5 947.1L1447.3 987.4L1448.1 1018.1L1448.9 1037.1L1449.7 1049.9L1450.5 1059.6L1451.3 1065.9L1452.1 1068.9L1452.9 1071.0L1453.7 1072.6L1454.5 1073.8L1455.3 1075.0L1456.1 1076.1L1456.9 1077.5L1457.7 1079.2L1458.5 1081.0L1459.3 1082.8L1460.1 1084.6L1460.9 1086.5L1461.7 1084.3L1462.5 1080.3L1463.3 1074.4L1464.1 1064.9L1464.9 1047.5L1465.7 1020.0L1466.5 979.6L1467.2 922.7L1468.0 852.0L1468.8 762.3L1469.6 643.2L1470.4 534.2L1471.2 512.3L1472.0 500.9L1472.8 491.8L1473.6 509.4L1474.4 573.6L1475.2 717.3L1476.0 836.8L1476.8 917.8L1477.5 971.8L1478.3 1009.4L1479.1 1034.5L1479.9 1049.1L1480.7 1060.2L1481.5 1067.3L1482.3 1070.5L1483.1 1072.7L1483.9 1074.3L1484.7 1075.6L1485.5 1076.9L1486.2 1078.2L1487.0 1080.0L1487.8 1081.9L1488.6 1083.8L1489.4 1085.8L1490.2 1087.9L1491.0 1085.7L1491.8 1081.8L1492.5 1075.9L1493.3 1066.5L1494.1 1049.1L1494.9 1021.9L1495.7 981.7L1496.4 925.2L1497.2 854.9L1498.0 765.8L1498.8 647.4L1499.6 539.1L1500.3 517.4L1501.1 506.0L1501.9 497.0L1502.7 513.3L1503.5 565.5L1504.3 700.2L1505.2 818.2L1506.0 900.7L1506.8 957.6L1507.6 995.6L1508.4 1023.6L1509.2 1039.5L1510.0 1051.4L1510.8 1059.9L1511.7 1064.4L1512.5 1066.8L1513.3 1068.6L1514.1 1070.0L1514.9 1071.2L1515.7 1072.4L1516.5 1073.8L1517.3 1075.4L1518.2 1077.2L1519.0 1079.1L1519.8 1081.0L1520.6 1082.9L1521.4 1080.9L1522.2 1077.3L1523.0 1072.2L1523.8 1064.2L1524.5 1050.3L1525.3 1028.6L1526.1 995.3L1526.9 949.9L1527.7 890.5L1528.5 817.9L1529.3 723.7L1530.0 611.6L1530.8 524.1L1531.6 508.6L1532.4 497.9L1533.2 489.5L1534.0 508.3L1534.8 585.8L1535.6 736.3L1536.4 854.8L1537.2 933.1L1538.0 983.7L1538.8 1019.8L1539.6 1040.9L1540.4 1054.9L1541.2 1064.7L1541.9 1069.8L1542.7 1072.4L1543.5 1074.4L1544.3 1075.8L1545.1 1077.1L1545.9 1078.5L1546.7 1080.3L1547.5 1082.3L1548.3 1084.3L1549.1 1086.4L1549.9 1088.6L1550.7 1086.1L1551.5 1081.8L1552.3 1074.9L1553.1 1063.1L1553.9 1041.7L1554.7 1006.7L1555.5 956.2L1556.2 887.7L1557.0 801.0L1557.8 681.5L1558.6 557.0L1559.4 520.0L1560.2 507.7L1561.0 497.9L1561.8 513.6L1562.6 557.4L1563.5 686.9L1564.3 806.6L1565.1 893.2L1565.9 953.8L1566.7 994.0L1567.5 1024.7L1568.3 1043.8L1569.2 1056.5L1570.0 1066.2L1570.8 1072.5L1571.6 1075.5L1572.4 1077.6L1573.2 1079.2L1574.1 1080.4L1574.9 1081.6L1575.7 1082.7L1576.5 1084.1L1577.3 1085.8L1578.1 1087.6L1579.0 1089.4L1579.8 1091.2L1580.6 1093.1L1581.4 1090.6L1582.2 1086.3L1583.0 1079.5L1583.8 1067.7L1584.6 1046.4L1585.4 1011.5L1586.2 961.2L1587.1 893.0L1587.9 806.5L1588.7 687.5L1589.5 563.5L1590.3 526.7L1591.1 514.4L1591.9 504.6L1592.7 524.3L1593.5 614.9L1594.3 767.7L1595.1 881.7L1596.0 955.9L1596.8 1002.6L1597.6 1035.2L1598.4 1052.8L1599.2 1065.5L1600.0 1073.4L1600.8 1076.8L1601.6 1079.1L1602.4 1080.8L1603.2 1082.2L1604.0 1083.5L1604.9 1085.3L1605.7 1087.3L1606.5 1089.4L1607.3 1091.6L1608.1 1093.8L1608.9 1092.0L1609.7 1088.7L1610.5 1084.2L1611.3 1077.4L1612.1 1066.3L1612.9 1048.5L1613.7 1021.6L1614.5 984.9L1615.2 935.1L1616.0 874.8L1616.8 800.8L1617.6 702.8L1618.4 598.1L1619.2 534.5L1620.0 521.7L1620.8 511.8L1621.6 504.0L1622.4 523.9L1623.2 615.3L1624.0 769.5L1624.8 884.6L1625.6 959.5L1626.5 1006.6L1627.3 1039.6L1628.1 1057.3L1628.9 1070.2L1629.7 1078.1L1630.5 1081.6L1631.3 1083.9L1632.1 1085.6L1632.9 1086.9L1633.8 1088.3L1634.6 1090.1L1635.4 1092.1L1636.2 1094.3L1637.0 1096.4L1637.8 1098.7L1638.6 1096.7L1639.4 1093.2L1640.3 1088.2L1641.1 1080.4L1641.9 1066.7L1642.7 1045.4L1643.5 1012.8L1644.3 968.3L1645.2 910.0L1646.0 838.8L1646.8 746.4L1647.6 636.5L1648.4 550.7L1649.3 535.5L1650.1 525.0L1650.9 516.8L1651.7 532.1L1652.5 574.7L1653.3 700.9L1654.1 817.5L1654.9 901.8L1655.7 960.8L1656.5 1000.0L1657.3 1029.9L1658.1 1048.4L1658.9 1060.8L1659.7 1070.3L1660.5 1076.4L1661.3 1079.4L1662.1 1081.4L1662.9 1082.9L1663.7 1084.2L1664.5 1085.3L1665.3 1086.4L1666.1 1087.8L1666.9 1089.4L1667.7 1091.1L1668.5 1092.9L1669.3 1094.7L1670.1 1096.5L1670.9 1094.3L1671.7 1090.4L1672.4 1084.5L1673.2 1075.2L1674.0 1057.9L1674.8 1030.8L1675.6 990.8L1676.3 934.6L1677.1 864.8L1677.9 776.1L1678.7 658.3L1679.5 550.6L1680.2 529.0L1681.0 517.7L1681.8 508.7L1682.6 525.1L1683.4 577.7L1684.2 713.3L1685.1 832.2L1685.9 915.3L1686.7 972.5L1687.5 1010.8L1688.3 1039.0L1689.1 1055.0L1689.9 1067.0L1690.7 1075.5L1691.6 1080.0L1692.4 1082.5L1693.2 1084.3L1694.0 1085.7L1694.8 1086.9L1695.6 1088.1L1696.4 1089.5L1697.2 1091.2L1698.1 1093.0L1698.9 1094.9L1699.7 1096.8L1700.5 1098.7L1701.3 1096.0L1702.2 1091.2L1703.0 1083.0L1703.8 1067.9L1704.7 1040.9L1705.5 997.2L1706.3 932.9L1707.1 849.8L1708.0 736.2L1708.8 599.4L1709.6 538.4L1710.5 524.9L1711.3 514.3L1712.1 533.9L1712.9 624.1L1713.7 776.3L1714.6 889.9L1715.4 963.8L1716.2 1010.3L1717.0 1042.8L1717.8 1060.4L1718.6 1073.0L1719.4 1080.9L1720.3 1084.3L1721.1 1086.6L1721.9 1088.2L1722.7 1089.6L1723.5 1091.0L1724.3 1092.7L1725.2 1094.7L1726.0 1096.8L1726.8 1099.0L1727.6 1101.2L1728.4 1098.8L1729.2 1094.6L1730.0 1087.5L1730.9 1074.2L1731.7 1050.5L1732.5 1012.2L1733.3 955.8L1734.1 882.9L1734.9 783.3L1735.8 663.3L1736.6 609.9L1737.4 598.0L1738.2 588.7L1739.0 613.7L1739.8 647.7L1740.5 712.1L1741.3 1003.1L1742.1 1039.7L1742.9 1056.0L1743.7 1066.2L1744.4 1074.3L1745.2 1077.4L1746.0 1079.5L1746.8 1081.4L1747.6 1083.6L1748.3 1085.9L1749.1 1088.2L1749.9 1090.5L1750.7 1081.3L1751.4 1068.7L1752.2 1048.6L1753.0 1012.8L1753.8 956.4L1754.5 784.6L1755.3 653.0L1756.1 594.2L1756.8 555.5L1757.6 530.4L1758.4 558.3L1759.2 596.2L1760.1 668.0L1760.9 992.2L1761.7 1033.0L1762.5 1051.2L1763.3 1062.5L1764.2 1071.5L1765.0 1075.0L1765.8 1077.3L1766.6 1079.4L1767.4 1081.9L1768.3 1084.5L1769.1 1087.1L1769.9 1089.6L1770.7 1080.4L1771.5 1067.9L1772.2 1048.0L1773.0 1012.4L1773.8 956.5L1774.6 786.0L1775.4 655.3L1776.1 596.9L1776.9 558.5L1777.7 533.6L1778.5 561.4L1779.3 599.2L1780.2 670.7L1781.0 993.8L1781.8 1034.5L1782.6 1052.6L1783.4 1063.9L1784.3 1072.9L1785.1 1076.4L1785.9 1078.7L1786.7 1080.7L1787.5 1083.3L1788.4 1085.8L1789.2 1088.4L1790.0 1090.9L1790.8 1081.6L1791.6 1068.9L1792.3 1048.6L1793.1 1012.6L1793.9 955.8L1794.7 782.8L1795.5 650.1L1796.2 590.9L1797.0 551.9L1797.8 526.6L1798.6 554.8L1799.4 593.1L1800.2 665.7L1801.1 993.6L1801.9 1034.8L1802.7 1053.2L1803.5 1064.7L1804.3 1073.8L1805.1 1077.4L1805.9 1079.7L1806.7 1081.8L1807.6 1084.3L1808.4 1087.0L1809.2 1089.5L1810.0 1092.1L1810.8 1081.6L1811.7 1066.9L1812.5 1039.2L1813.4 997.5L1814.2 871.1L1815.1 683.0L1815.9 607.6L1816.8 561.7L1817.6 533.0L1818.4 560.9L1819.2 598.8L1820.0 670.6L1820.9 995.0L1821.7 1035.8L1822.5 1054.0L1823.3 1065.4L1824.1 1074.4L1824.9 1077.9L1825.7 1080.2L1826.5 1082.3L1827.4 1084.8L1828.2 1087.4L1829.0 1090.0L1829.8 1092.5L1830.6 1081.9L1831.5 1067.1L1832.3 1039.1L1833.1 996.9L1834.0 869.3L1834.8 679.2L1835.6 603.0L1836.5 556.7L1837.3 527.7L1838.1 553.7L1838.9 588.8L1839.7 647.9L1840.5 967.8L1841.2 1026.5L1842.0 1049.4L1842.8 1061.4L1843.6 1071.9L1844.4 1077.2L1845.2 1079.9L1846.0 1081.9L1846.8 1084.0L1847.5 1086.4L1848.3 1088.9L1849.1 1091.3L1849.9 1093.7L1850.7 1084.4L1851.4 1071.6L1852.2 1051.3L1853.0 1015.1L1853.8 958.2L1854.5 784.6L1855.3 651.5L1856.1 592.1L1856.8 553.0L1857.6 527.6L1858.4 555.9L1859.2 594.4L1860.0 667.2L1860.9 996.2L1861.7 1037.5L1862.5 1056.0L1863.3 1067.5L1864.1 1076.6L1864.9 1080.2L1865.7 1082.6L1866.5 1084.7L1867.4 1087.2L1868.2 1089.8L1869.0 1092.4L1869.8 1095.0L1870.6 1085.7L1871.4 1073.0L1872.2 1052.7L1873.0 1016.7L1873.8 959.9L1874.5 786.7L1875.3 654.0L1876.1 594.7L1876.9 555.7L1877.7 530.4L1878.5 558.6L1879.3 596.9L1880.1 669.4L1881.0 997.1L1881.8 1038.4L1882.6 1056.8L1883.4 1068.2L1884.2 1077.3L1885.0 1080.9L1885.8 1083.2L1886.6 1085.3L1887.5 1087.9L1888.3 1090.5L1889.1 1093.0L1889.9 1095.6L1890.7 1085.1L1891.6 1070.3L1892.4 1042.6L1893.2 1000.7L1894.1 874.0L1894.9 685.3L1895.7 609.7L1896.6 563.7L1897.4 534.9L1898.2 560.7L1899.0 595.5L1899.8 654.1L1900.6 971.3L1901.3 1029.6L1902.1 1052.3L1902.9 1064.1L1903.7 1074.5L1904.5 1079.8L1905.3 1082.5L1906.1 1084.5L1906.8 1086.6L1907.6 1089.0L1908.4 1091.4L1909.2 1093.8L1910.0 1096.2L1910.8 1085.7L1911.7 1070.9L1912.5 1043.0L1913.3 1001.1L1914.2 874.0L1915.0 684.9L1915.8 609.1L1916.7 563.0L1917.5 534.1L1918.3 560.0L1919.0 595.0L1919.8 653.8L1920.6 972.2L1921.4 1030.7L1922.2 1053.4L1922.9 1065.3L1923.7 1075.8L1924.5 1081.0L1925.2 1083.8L1926.0 1085.8L1926.8 1087.8L1927.6 1090.3L1928.4 1092.7L1929.1 1095.1L1929.9 1097.5L1930.7 1088.2L1931.4 1075.6L1932.2 1055.4L1933.0 1019.5L1933.8 963.0L1934.5 790.7L1935.3 658.7L1936.1 599.7L1936.8 560.9L1937.6 535.7L1938.4 563.7L1939.2 601.9L1940.0 674.1L1940.9 1000.1L1941.7 1041.2L1942.5 1059.5L1943.3 1070.9L1944.1 1079.9L1944.9 1083.4L1945.7 1085.8L1946.5 1087.8L1947.4 1090.4L1948.2 1093.0L1949.0 1095.6L1949.8 1098.1L1950.6 1087.7L1951.5 1073.0L1952.3 1045.4L1953.1 1003.9L1954.0 878.0L1954.8 690.7L1955.6 615.6L1956.5 569.9L1957.3 541.3L1958.1 566.9L1958.9 601.6L1959.7 659.8L1960.5 975.3L1961.2 1033.2L1962.0 1055.8L1962.8 1067.5L1963.6 1077.9L1964.4 1083.1L1965.2 1085.8L1966.0 1087.8L1966.8 1089.8L1967.5 1092.2L1968.3 1094.6L1969.1 1097.0L1969.9 1099.4L1970.7 1089.0L1971.6 1074.4L1972.4 1046.9L1973.2 1005.4L1974.1 879.8L1974.9 692.9L1975.7 618.0L1976.6 572.4L1977.4 543.9L1978.2 569.4L1979.0 603.9L1979.8 661.9L1980.6 975.8L1981.3 1033.5L1982.1 1056.0L1982.9 1067.7L1983.7 1078.0L1984.5 1083.2L1985.3 1085.9L1986.1 1087.9L1986.8 1089.9L1987.6 1092.3L1988.4 1094.7L1989.2 1097.0L1990.0 1099.4L1990.8 1088.9L1991.7 1074.1L1992.5 1046.3L1993.3 1004.4L1994.2 877.5L1995.0 688.6L1995.8 612.9L1996.7 566.8L1997.5 538.0L1998.3 566.0L1999.1 604.2L1999.9 676.5L2000.8 1002.8L2001.6 1043.9L2002.4 1062.2L2003.2 1073.6L2004.0 1082.7L2004.8 1086.2L2005.6 1088.6L2006.4 1090.6L2007.3 1093.2L2008.1 1095.8L2008.9 1098.4L2009.7 1100.9L2010.5 1091.7L2011.2 1079.2L2012.0 1059.2L2012.8 1023.7L2013.6 967.7L2014.3 797.0L2015.1 666.2L2015.9 607.7L2016.6 569.2L2017.4 544.3L2018.2 574.4L2019.0 616.0L2019.8 740.0L2020.6 1015.6L2021.4 1048.7L2022.2 1063.4L2023.0 1075.1L2023.8 1080.7L2024.6 1083.6L2025.4 1085.7L2026.2 1088.3L2027.0 1091.0L2027.8 1093.7L2028.6 1096.4L2029.4 1087.2L2030.2 1074.7L2030.9 1054.8L2031.7 1019.3L2032.5 963.4L2033.3 793.0L2034.1 662.4L2034.8 604.1L2035.6 565.7L2036.4 540.8L2037.2 567.6L2038.0 599.0L2038.8 674.3L2039.5 976.3L2040.3 1019.5L2041.1 1040.7L2041.9 1055.7L2042.7 1066.5L2043.5 1075.5L2044.2 1083.5L2045.0 1090.2L2045.8 1095.0L2046.6 1089.1L2047.4 1075.7L2048.2 1035.2L2049.1 957.2L2049.9 735.6L2050.7 636.7L2051.5 599.4L2052.3 574.7L2053.1 599.9L2053.9 629.5L2054.8 700.4L2055.6 984.5L2056.4 1025.1L2057.2 1045.1L2058.0 1059.2L2058.8 1069.4L2059.7 1077.8L2060.5 1085.4L2061.3 1091.7L2062.1 1096.2L2062.9 1090.2L2063.8 1076.7L2064.6 1035.8L2065.4 957.0L2066.2 733.2L2067.0 633.2L2067.9 595.6L2068.7 570.6L2069.5 596.1L2070.3 625.9L2071.1 697.6L2072.0 984.8L2072.8 1025.9L2073.6 1046.0L2074.4 1060.3L2075.2 1070.6L2076.1 1079.1L2076.9 1086.8L2077.7 1093.2L2078.5 1097.7L2079.3 1091.5L2080.2 1077.7L2081.0 1035.7L2081.8 954.9L2082.6 725.2L2083.4 622.7L2084.3 584.0L2085.1 558.4L2085.9 584.5L2086.7 615.1L2087.5 688.4L2088.3 982.5L2089.1 1024.5L2089.9 1045.2L2090.8 1059.8L2091.6 1070.4L2092.4 1079.1L2093.2 1086.9L2094.0 1093.4L2094.8 1098.1L2095.6 1091.9L2096.5 1078.0L2097.3 1035.8L2098.2 954.5L2099.0 723.6L2099.8 620.5L2100.7 581.7L2101.5 555.9L2102.3 582.1L2103.1 612.8L2103.9 686.5L2104.7 982.0L2105.5 1024.2L2106.3 1044.9L2107.1 1059.6L2107.9 1070.2L2108.7 1079.0L2109.5 1086.9L2110.3 1093.4L2111.1 1098.1L2111.9 1092.0L2112.8 1078.4L2113.6 1036.9L2114.4 957.2L2115.2 730.5L2116.0 629.3L2116.9 591.2L2117.7 565.9L2118.5 591.7L2119.3 621.9L2120.1 694.4L2120.9 984.9L2121.7 1026.4L2122.4 1046.8L2123.2 1061.3L2124.0 1071.7L2124.8 1080.3L2125.6 1088.1L2126.4 1094.5L2127.2 1099.1L2128.0 1093.1L2128.8 1079.6L2129.6 1038.7L2130.4 960.0L2131.2 736.2L2132.0 636.3L2132.8 598.7L2133.6 573.7L2134.4 599.1L2135.2 628.9L2136.1 700.4L2136.9 986.8L2137.7 1027.7L2138.5 1047.9L2139.3 1062.1L2140.1 1072.4L2140.9 1080.9L2141.8 1088.5L2142.6 1094.9L2143.4 1099.4L2144.2 1094.3L2144.9 1083.9L2145.7 1058.0L2146.5 1004.3L2147.2 866.0L2148.0 677.1L2148.8 622.3L2149.5 590.9L2150.3 569.2L2151.1 594.8L2151.9 624.9L2152.7 697.1L2153.5 986.3L2154.3 1027.6L2155.1 1048.0L2155.9 1062.3L2156.7 1072.7L2157.5 1081.3L2158.3 1089.0L2159.1 1095.4L2159.9 1100.0L2160.8 1093.9L2161.6 1080.1L2162.4 1038.4L2163.3 958.1L2164.2 729.9L2165.0 627.9L2165.8 589.6L2166.7 564.1L2167.5 590.0L2168.3 620.5L2169.0 693.4L2169.8 985.9L2170.6 1027.7L2171.4 1048.3L2172.2 1062.8L2173.0 1073.3L2173.8 1082.0L2174.5 1089.8L2175.3 1096.3L2176.1 1100.9L2176.9 1095.8L2177.6 1085.4L2178.4 1059.3L2179.2 1005.5L2179.9 866.7L2180.7 677.1L2181.5 622.1L2182.2 590.5L2183.0 568.8L2183.8 594.5L2184.6 624.6L2185.4 696.9L2186.2 986.6L2187.0 1027.9L2187.8 1048.3L2188.6 1062.7L2189.4 1073.1L2190.2 1081.7L2191.0 1089.4L2191.8 1095.8L2192.6 1100.4L2193.4 1094.5L2194.2 1081.4L2195.0 1041.4L2195.8 964.5L2196.7 746.0L2197.5 648.4L2198.3 611.7L2199.1 587.3L2199.9 612.1L2200.7 641.2L2201.5 711.0L2202.3 990.9L2203.1 1030.9L2203.9 1050.5L2204.8 1064.5L2205.6 1074.5L2206.4 1082.8L2207.2 1090.3L2208.0 1096.5L2208.8 1100.9L2209.6 1095.0L2210.4 1081.8L2211.2 1041.7L2212.1 964.6L2212.9 745.5L2213.7 647.6L2214.5 610.7L2215.3 586.3L2216.1 611.2L2216.9 640.5L2217.8 710.7L2218.6 992.0L2219.4 1032.1L2220.2 1051.9L2221.0 1065.9L2221.8 1076.0L2222.7 1084.3L2223.5 1091.8L2224.3 1098.0L2225.1 1102.5L2225.9 1096.5L2226.8 1082.9L2227.6 1041.7L2228.4 962.5L2229.3 737.4L2230.1 636.9L2231.0 599.0L2231.8 573.9L2232.6 599.5L2233.4 629.5L2234.2 701.4L2235.1 989.8L2235.9 1031.0L2236.7 1051.2L2237.5 1065.5L2238.3 1075.9L2239.2 1084.5L2240.0 1092.2L2240.8 1098.5L2241.6 1103.1L2242.4 1097.0L2243.3 1083.3L2244.1 1041.6L2244.9 961.4L2245.8 733.6L2246.6 631.8L2247.5 593.5L2248.3 568.1L2249.1 596.7L2250.0 630.9L2250.8 787.4L2251.6 1007.2L2252.5 1040.1L2253.3 1058.6L2254.2 1071.6L2255.0 1081.4L2255.8 1090.1L2256.7 1097.4L2257.5 1102.5L2258.3 1097.5L2259.0 1087.2L2259.8 1061.6L2260.6 1008.5L2261.3 871.7L2262.1 684.9L2262.9 630.7L2263.6 599.6L2264.4 578.2L2265.2 603.5L2266.0 633.2L2266.8 704.5L2267.6 990.2L2268.4 1031.0L2269.2 1051.1L2269.9 1065.3L2270.7 1075.6L2271.5 1084.0L2272.3 1091.7L2273.1 1098.0L2273.9 1102.5L2274.7 1097.2L2275.4 1086.2L2276.2 1058.8L2277.0 1002.2L2277.7 856.3L2278.5 657.0L2279.3 599.1L2280.0 566.0L2280.8 543.1" fill="none" stroke="#ff0000" stroke-width="2.2" stroke-linejoin="round" stroke-linecap="butt"/>
<line x1="1307.4" y1="28.8" x2="1314.4" y2="1166" stroke="#000" stroke-width="2.8" stroke-dasharray="13.8 13.72" fill="none"/>
<line x1="1723.4" y1="21.8" x2="1730.6" y2="1166" stroke="#000" stroke-width="2.8" stroke-dasharray="13.8 13.72" fill="none"/>
<line x1="2022.3" y1="28.9" x2="2029.3" y2="1166" stroke="#000" stroke-width="2.8" stroke-dasharray="13.8 13.72" fill="none"/>
<rect x="211.8" y="28.2" width="604.5" height="88.7" fill="#fff" stroke="#000" stroke-width="2"/>
<line x1="221.2" y1="72.3" x2="364.8" y2="72.3" stroke="#ff0000" stroke-width="2.5" stroke-linecap="round"/>
<text x="382.5" y="94.2" font-size="65">DC resistance</text>
<rect x="201.4" y="24.4" width="2085.95" height="1143.6499999999999" fill="none" stroke="#000" stroke-width="5.8"/>
<text transform="translate(204.2 1249.6) scale(1 1.04)" font-size="60" text-anchor="middle">0</text>
<text transform="translate(537.4 1249.6) scale(1 1.04)" font-size="60" text-anchor="middle">200</text>
<text transform="translate(870.6 1249.6) scale(1 1.04)" font-size="60" text-anchor="middle">400</text>
<text transform="translate(1203.8 1249.6) scale(1 1.04)" font-size="60" text-anchor="middle">600</text>
<text transform="translate(1537.0 1249.6) scale(1 1.04)" font-size="60" text-anchor="middle">800</text>
<text transform="translate(1870.2 1249.6) scale(1 1.04)" font-size="60" text-anchor="middle">1000</text>
<text transform="translate(2203.4 1249.6) scale(1 1.04)" font-size="60" text-anchor="middle">1200</text>
<text transform="translate(181 1170.8) scale(1 1.04)" font-size="60" text-anchor="end">0.0</text>
<text transform="translate(181 916.6) scale(1 1.04)" font-size="60" text-anchor="end">0.4</text>
<text transform="translate(181 662.4) scale(1 1.04)" font-size="60" text-anchor="end">0.8</text>
<text transform="translate(181 408.2) scale(1 1.04)" font-size="60" text-anchor="end">1.2</text>
<text transform="translate(181 153.9) scale(1 1.04)" font-size="60" text-anchor="end">1.6</text>
<text x="1243.3" y="1328" font-size="64.65" text-anchor="middle">Time in seconds</text>
<text transform="translate(69.9 567.9) rotate(-90)" font-size="64.65" text-anchor="middle">Resistance in MΩ</text>
<text transform="translate(672.8 206.3) scale(1 1.04)" font-size="59.6" text-anchor="middle">5N/s</text>
<text transform="translate(1513.3 201.9) scale(1 1.04)" font-size="59.6" text-anchor="middle">15N/s</text>
<text transform="translate(1862.0 203.3) scale(1 1.04)" font-size="59.6" text-anchor="middle">25N/s</text>
<text transform="translate(2150.5 202.7) scale(1 1.04)" font-size="59.6" text-anchor="middle">50N/s</text>
</svg>
</body>
</html>
